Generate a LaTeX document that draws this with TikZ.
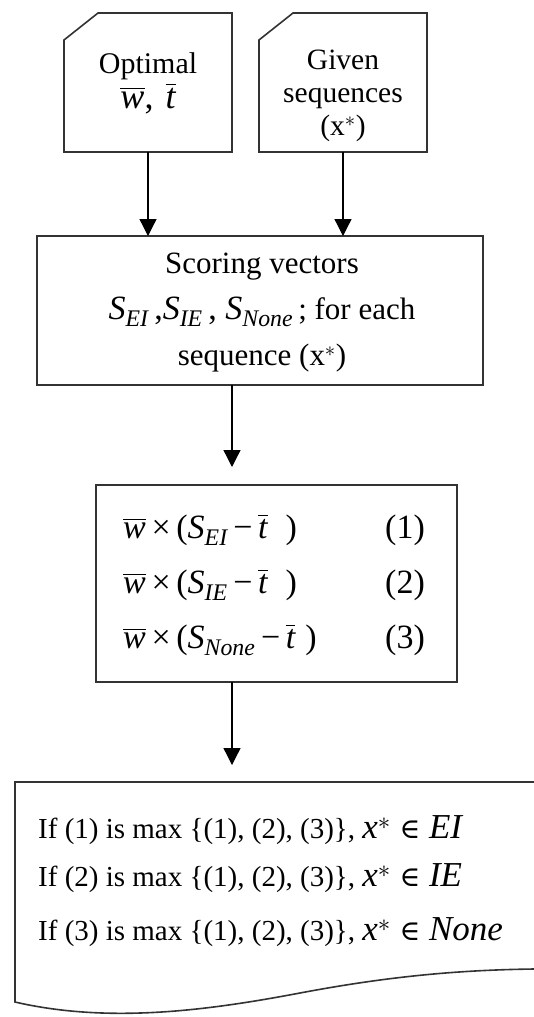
\documentclass[tikz,border=0pt]{standalone}
\usepackage{amsmath}
\usepackage{fontspec}
\setmainfont{Liberation Serif}
\newfontfamily\symfam{DejaVu Serif}
\usetikzlibrary{arrows.meta,calc}
\newcommand{\mi}[1]{\textit{#1}}
\newcommand{\wbar}{$\overline{\mi{w}}$}
\newcommand{\tbar}{$\overline{\mi{t}}$}
\newcommand{\wexpr}[2]{\wbar\,×\,(\mi{S}$_{\mi{#1}}$\,−\,\tbar\hspace{#2})}
\newcommand{\elem}{{\symfam\fontsize{28}{30}\selectfont ∈}}
\begin{document}
\begin{tikzpicture}[x=1pt,y=-1pt,
  boxline/.style={draw=black!80, line width=1.6pt},
  arr/.style={-{Triangle[width=17pt,length=17pt]}, line width=1.3pt, draw=black},
  shapebox/.style={inner sep=0pt, outer sep=0pt},
  txt/.style={inner sep=0pt, align=center},
  eqtxt/.style={inner sep=0pt, anchor=west, font=\fontsize{34}{38}\selectfont},
  doctxt/.style={inner sep=0pt, anchor=west, font=\fontsize{29}{32}\selectfont}
]
\useasboundingbox (0,0) rectangle (534,1017);
\fill[white] (0,0) rectangle (534,1017);

% top input boxes
\node[shapebox, minimum width=168pt, minimum height=139pt] (opt) at (148,82.5) {};
\node[shapebox, minimum width=168pt, minimum height=139pt] (given) at (343,82.5) {};
\draw[boxline] (opt.south west) -- ([yshift=-27pt]opt.north west) -- ([xshift=34pt]opt.north west) -- (opt.north east) -- (opt.south east) -- cycle;
\draw[boxline] (given.south west) -- ([yshift=-27pt]given.north west) -- ([xshift=34pt]given.north west) -- (given.north east) -- (given.south east) -- cycle;
\node[txt, font=\fontsize{30}{37}\selectfont] (optT) at (148,83) {Optimal\\[-2pt] {\fontsize{36}{38}\selectfont\wbar,\,\,\tbar}};
\node[txt, font=\fontsize{29.5}{33}\selectfont] (givenT) at (343,96) {Given\\ sequences\\ (x$^{*}$)};

% scoring box
\node[shapebox, boxline, minimum width=446pt, minimum height=149pt] (score) at (260,310.5) {};
\node[txt, font=\fontsize{31}{46}\selectfont] (scoreT) at (262,313) {Scoring vectors\\ {\fontsize{34}{46}\selectfont$\mi{S}_{\mi{EI}}$\,,$\mi{S}_{\mi{IE}}$\,, $\mi{S}_{\mi{None}}$}\,; for each\\ sequence (x$^{*}$)};

% equation box
\node[shapebox, boxline, minimum width=361pt, minimum height=197pt] (eq) at (276.5,583.5) {};
\node[eqtxt] (e1) at (123,530) {\wexpr{EI}{18pt}};
\node[eqtxt] (e2) at (123,585) {\wexpr{IE}{18pt}};
\node[eqtxt] (e3) at (123,640) {\wexpr{None}{10pt}};
\node[eqtxt] (n1) at (385,530) {(1)};
\node[eqtxt] (n2) at (385,585) {(2)};
\node[eqtxt] (n3) at (385,640) {(3)};

% output document
\node[shapebox, minimum width=519pt, minimum height=220pt] (doc) at (274.5,892) {};
\draw[boxline] (doc.north east) -- (doc.north west) -- (doc.south west)
  .. controls (110,1024) and (210,1010) .. (300,993)
  .. controls (390,976) and (460,970) .. (534,969);
\node[doctxt] (d1) at (38,830) {If (1) is max \{(1), (2), (3)\}, {\fontsize{35}{38}\selectfont $\mi{x}^{*}$ \elem\ \mi{EI}}};
\node[doctxt] (d2) at (38,878) {If (2) is max \{(1), (2), (3)\}, {\fontsize{35}{38}\selectfont $\mi{x}^{*}$ \elem\ \mi{IE}}};
\node[doctxt] (d3) at (38,932) {If (3) is max \{(1), (2), (3)\}, {\fontsize{35}{38}\selectfont $\mi{x}^{*}$ \elem\ \mi{None}}};

% connectors
\draw[arr] (opt.south) -- (opt.south |- score.north);
\draw[arr] (given.south) -- (given.south |- score.north);
\draw[arr, shorten >=18pt] ([xshift=-28pt]score.south) -- ([xshift=-28pt]score.south |- eq.north);
\draw[arr, shorten >=17pt] ([xshift=-44.5pt]eq.south) -- ([xshift=-44.5pt]eq.south |- doc.north);
\end{tikzpicture}
\end{document}
